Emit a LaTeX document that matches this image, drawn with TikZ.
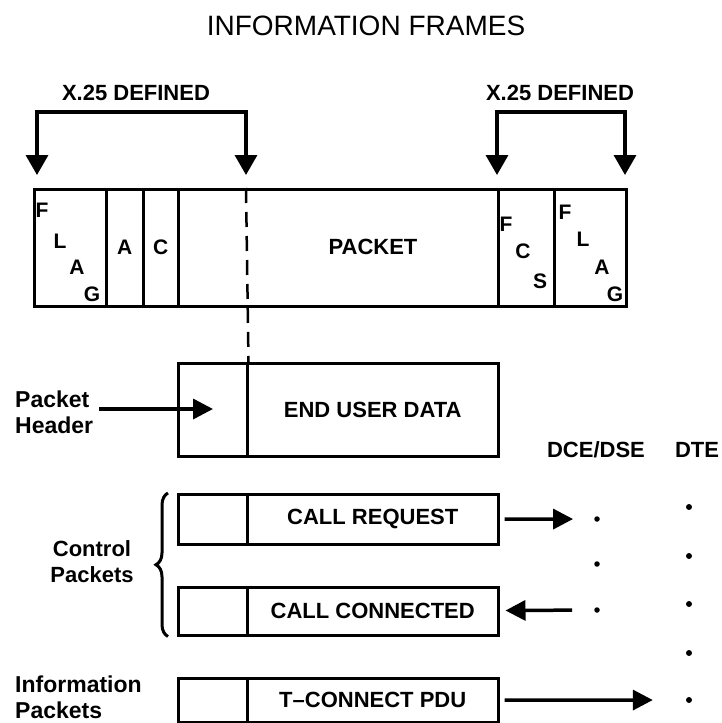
\documentclass[tikz,border=0pt]{standalone}
\usepackage{fontspec}
\setmainfont{Liberation Sans}
\usetikzlibrary{arrows.meta,positioning,decorations.pathreplacing}

\tikzset{
    box/.style={draw,line width=2.5pt,anchor=north west,inner sep=0pt},
    ltr/.style={inner sep=0pt,font=\bfseries\fontsize{21}{21}\selectfont},
    txt/.style={inner sep=0pt,font=\bfseries\fontsize{22}{22}\selectfont},
    side/.style={inner sep=0pt,align=left,font=\bfseries\fontsize{23}{26}\selectfont},
    bigtip/.style={line width=3.5pt,{Triangle[length=20pt,width=22pt]}-{Triangle[length=20pt,width=22pt]}},
    tip/.style={line width=3.5pt,-{Triangle[length=20pt,width=20pt]}},
    dot/.style={circle,fill,inner sep=0pt,minimum size=6pt}
}

\begin{document}
\begin{tikzpicture}[x=1pt,y=-1pt]
        \useasboundingbox (0,0) rectangle (721,723);
        \node[font=\fontsize{28}{28}\selectfont] (title) at (366,26) {INFORMATION FRAMES};
        \node[txt] (defl) at (136,93) {X.25 DEFINED};
        \node[txt] (defr) at (560,93) {X.25 DEFINED};
        \foreach \n/\x/\w in {flagl/33/72,addr/105/37,ctrl/142/35,pkt/177/320,fcs/497/56,flagr/553/72}
            \node[box,minimum width=\w pt,minimum height=117pt] (\n) at (\x,188) {};
        \node[ltr] (alet) at (addr) {A};
        \node[ltr] (clet) at (ctrl) {C};
        \node[txt] (pktlbl) at (373,247) {PACKET};
        \foreach \c/\x/\y [count=\i] in {F/42/210,L/60/241,A/77/267,G/92/294}
            \node[ltr] (fl\i) at (\x,\y) {\c};
        \foreach \c/\x/\y [count=\i] in {F/565/212,L/583/239,A/602/267,G/615/294}
            \node[ltr] (fr\i) at (\x,\y) {\c};
        \foreach \c/\x/\y [count=\i] in {F/506/224,C/523/251,S/540/281}
            \node[ltr] (fc\i) at (\x,\y) {\c};
        \coordinate (t1) at (37,175);
        \coordinate (t2) at (246,175);
        \coordinate (t3) at (497,175);
        \coordinate (t4) at (625,175);
        \draw[bigtip] (t1) -- ++(0,-63) -| (t2);
        \draw[bigtip] (t3) -- ++(0,-63) -| (t4);

        \node[box,minimum width=69pt,minimum height=93pt] (hdr) at (177,362) {};
        \node[box,txt,minimum width=251pt,minimum height=93pt] (data) at (246,362) {END USER DATA};
        \coordinate (cut) at (246,188);
        \draw[line width=2.5pt,dash pattern=on 15pt off 9pt] (cut) -- (hdr.north east);
        \node[side,anchor=west] (phdr) at (15,412) {Packet\\Header};
        \coordinate (ptip) at (213,409);
        \draw[tip,shorten <=6pt] (phdr.east |- ptip) -- (ptip);

        \node[txt] (dce) at (596,450) {DCE/DSE};
        \node[txt] (dte) at (697,450) {DTE};
        \foreach \n/\y/\h/\t in {crq/493/50/CALL REQUEST,ccn/586/48/CALL CONNECTED,tcn/677/44/T–CONNECT PDU} {
            \node[box,minimum width=69pt,minimum height=\h pt] (\n0) at (177,\y) {};
            \node[box,txt,minimum width=251pt,minimum height=\h pt] (\n) at (246,\y) {\t};
        }
        \foreach \y [count=\i] in {507,556,604,653,700}
            \node[dot] (dt\i) at (689,\y) {};
        \foreach \y [count=\i] in {519,564,610}
            \node[dot,minimum size=5.5pt] (dc\i) at (597,\y) {};
        \draw[tip,shorten <=5pt,shorten >=21pt] (crq) -- (dc1);
        \draw[tip,shorten <=22pt,shorten >=6pt] (dc3) -- (ccn);
        \draw[tip,shorten <=5pt,shorten >=33pt] (tcn) -- (dt5);
        \draw[line width=3pt,decorate,decoration={brace,amplitude=12pt}] ([xshift=-9pt]ccn0.south west) -- ([xshift=-9pt]crq0.north west);
        \node[side,align=center,font=\bfseries\fontsize{22}{26}\selectfont] (ctl) at (92,562) {Control\\Packets};
        \node[side,anchor=west] (inf) at (15,697) {Information\\Packets};
\end{tikzpicture}
\end{document}
